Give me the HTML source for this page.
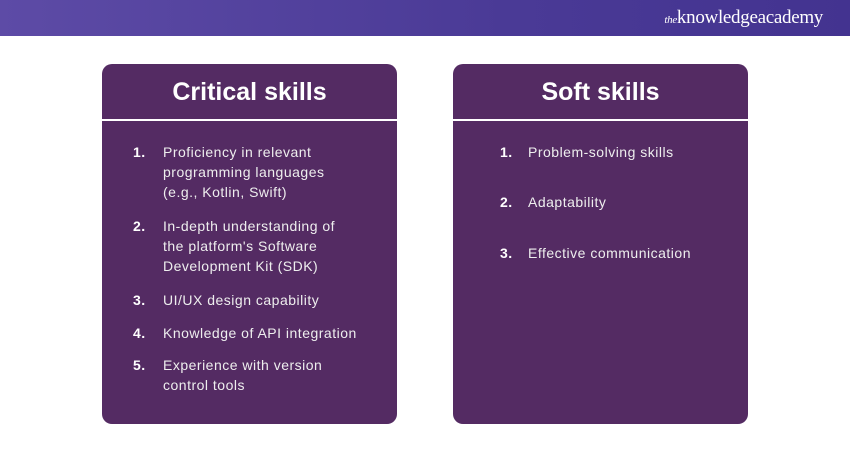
<!DOCTYPE html>
<html><head><meta charset="utf-8"><style>
*{margin:0;padding:0;box-sizing:border-box}
body{width:850px;height:450px;background:#fff;position:relative;overflow:hidden;font-family:"Liberation Sans",sans-serif}
.top{position:absolute;left:0;top:0;width:850px;height:36px;background:linear-gradient(90deg,#5d4ba6,#4a3a96 60%,#433390)}
.logo{position:absolute;right:27px;top:7px;color:#fff;font-family:"Liberation Serif",serif;font-size:19px;letter-spacing:-0.3px}
.logo i{font-size:11px}
.card{position:absolute;top:64px;width:295px;height:360px;background:#542b63;border-radius:10px;overflow:hidden}
.card .h{height:56px;color:#fff;font-weight:bold;font-size:25px;text-align:center;line-height:56px}
.card .ln{position:absolute;top:119px;left:0;right:0;height:2px;background:#fff}
.t{position:absolute;color:#eee;font-size:14px;line-height:20px;letter-spacing:0.5px;white-space:nowrap}
.n{position:absolute;color:#fff;font-size:14px;font-weight:bold;line-height:20px;letter-spacing:0.5px}
</style></head><body>
<div class="top"><div class="logo"><i>the</i>knowledgeacademy</div></div>
<div class="card" style="left:102px"><div class="h">Critical skills</div><div class="ln" style="top:55px"></div></div>
<div class="card" style="left:453px"><div class="h">Soft skills</div><div class="ln" style="top:55px"></div></div>

<div class="n" style="left:133px;top:142px">1.</div><div class="t" style="left:163px;top:142px">Proficiency in relevant<br>programming languages<br>(e.g., Kotlin, Swift)</div>
<div class="n" style="left:133px;top:216px">2.</div><div class="t" style="left:163px;top:216px">In-depth understanding of<br>the platform's Software<br>Development Kit (SDK)</div>
<div class="n" style="left:133px;top:290px">3.</div><div class="t" style="left:163px;top:290px">UI/UX design capability</div>
<div class="n" style="left:133px;top:323px">4.</div><div class="t" style="left:163px;top:323px">Knowledge of API integration</div>
<div class="n" style="left:133px;top:355px">5.</div><div class="t" style="left:163px;top:355px">Experience with version<br>control tools</div>

<div class="n" style="left:500px;top:142px">1.</div><div class="t" style="left:528px;top:142px">Problem-solving skills</div>
<div class="n" style="left:500px;top:192px">2.</div><div class="t" style="left:528px;top:192px">Adaptability</div>
<div class="n" style="left:500px;top:243px">3.</div><div class="t" style="left:528px;top:243px">Effective communication</div>
</body></html>
